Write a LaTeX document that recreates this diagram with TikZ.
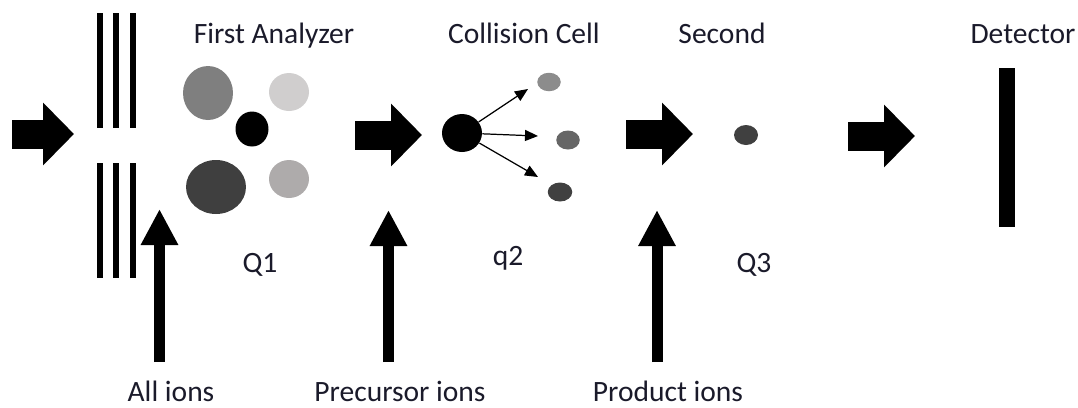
\documentclass[tikz,border=0pt]{standalone}
\usepackage{fontspec}
\setmainfont{Carlito}
\usepackage{xcolor}
\usetikzlibrary{arrows.meta,positioning,shapes.geometric}
\definecolor{ionmid}  {HTML}{7F7F7F}
\definecolor{ionlight}{HTML}{D0CECE}
\definecolor{iondark} {HTML}{3F3F3F}
\definecolor{ionpale} {HTML}{AEABAB}
\definecolor{fraga}   {HTML}{8C8C8C}
\definecolor{fragb}   {HTML}{666666}
\definecolor{fragc}   {HTML}{404040}
\definecolor{txtgray} {HTML}{1A1A2A}
\tikzset{
  blockarr/.style={line width=0.58cm,-{Triangle[length=0.62cm,width=1.22cm]}},
  uparr/.style={line width=0.22cm,-{Triangle[length=0.72cm,width=0.70cm]}},
  fragarr/.style={line width=0.7pt,-{Triangle[length=0.26cm,width=0.22cm]}},
  ttl/.style={font=\fontsize{16.8}{19}\selectfont,text=txtgray,
              anchor=base,inner sep=0pt},
  ion/.style={ellipse,inner sep=0pt,draw=none},
  plate/.style={line width=0.12cm},
}

\begin{document}
\begin{tikzpicture}[x=0.02cm,y=-0.02cm]
  \useasboundingbox (0,0) rectangle (1078,407);
  % Titles
  \node[ttl](FA)  at (274,43)  {First Analyzer};
  \node[ttl](CC)  at (524,43)  {Collision Cell};
  \node[ttl](SEC) at (722,43)  {Second};
  \node[ttl](DET) at (1023,43) {Detector};
  \node[ttl](Q1)  at (260,272) {Q1};
  \node[ttl](Q2)  at (508,265) {q2};
  \node[ttl](Q3)  at (754,272) {Q3};
  \node[ttl](ALL)  at (171,401) {All ions};
  \node[ttl](PREC) at (400,401) {Precursor ions};
  \node[ttl](PROD) at (668,401) {Product ions};

  % Entrance lenses
  \foreach \x in {100,116,133}{
    \draw[plate] (\x,13)  -- (\x,128);
    \draw[plate] (\x,163) -- (\x,278);
  }

  % Ions in Q1
  \node[ion,fill=ionmid,minimum width=1.00cm,minimum height=1.08cm](I1) at (208,93)  {};
  \node[ion,fill=ionlight,minimum width=0.80cm,minimum height=0.76cm](I2) at (289,92) {};
  \node[ion,fill=black,minimum width=0.66cm,minimum height=0.70cm](I3) at (252,129) {};
  \node[ion,fill=iondark,minimum width=1.20cm,minimum height=1.08cm](I4) at (216,187) {};
  \node[ion,fill=ionpale,minimum width=0.80cm,minimum height=0.76cm](I5) at (289,179) {};

  % Collision cell
  \node[ion,fill=black,minimum width=0.80cm,minimum height=0.76cm](PRE) at (462,133) {};
  \node[ion,fill=fraga,minimum width=0.47cm,minimum height=0.37cm](F1) at (549,82)  {};
  \node[ion,fill=fragb,minimum width=0.47cm,minimum height=0.38cm](F2) at (568,140) {};
  \node[ion,fill=fragc,minimum width=0.49cm,minimum height=0.38cm](F3) at (560,192) {};
  \coordinate (T1) at (528,89);
  \coordinate (T2) at (538,136);
  \coordinate (T3) at (538,177);
  \draw[fragarr](PRE) -- (T1);
  \draw[fragarr](PRE) -- (T2);
  \draw[fragarr](PRE) -- (T3);

  % Q3 and detector
  \node[ion,fill=fragc,minimum width=0.48cm,minimum height=0.40cm](P1) at (746,135) {};
  \node[fill=black,inner sep=0pt,minimum width=0.32cm,minimum height=3.18cm](DBAR) at (1007,147.5) {};

  % Beam arrows
  \coordinate (B0s) at (12,134);  \coordinate (B0e) at (74,134);
  \coordinate (B1s) at (355,135); \coordinate (B1e) at (422,135);
  \coordinate (B2s) at (626,134); \coordinate (B2e) at (693,134);
  \coordinate (B3s) at (848,136); \coordinate (B3e) at (915,136);
  \draw[blockarr](B0s) -- (B0e);
  \draw[blockarr](B1s) -- (B1e);
  \draw[blockarr](B2s) -- (B2e);
  \draw[blockarr](B3s) -- (B3e);

  % Pointer arrows
  \coordinate (U1s) at (159.5,362); \coordinate (U1e) at (159.5,209);
  \coordinate (U2s) at (388.5,362); \coordinate (U2e) at (388.5,210);
  \coordinate (U3s) at (657,362);   \coordinate (U3e) at (657,210);
  \draw[uparr](U1s) -- (U1e);
  \draw[uparr](U2s) -- (U2e);
  \draw[uparr](U3s) -- (U3e);
\end{tikzpicture}
\end{document}
